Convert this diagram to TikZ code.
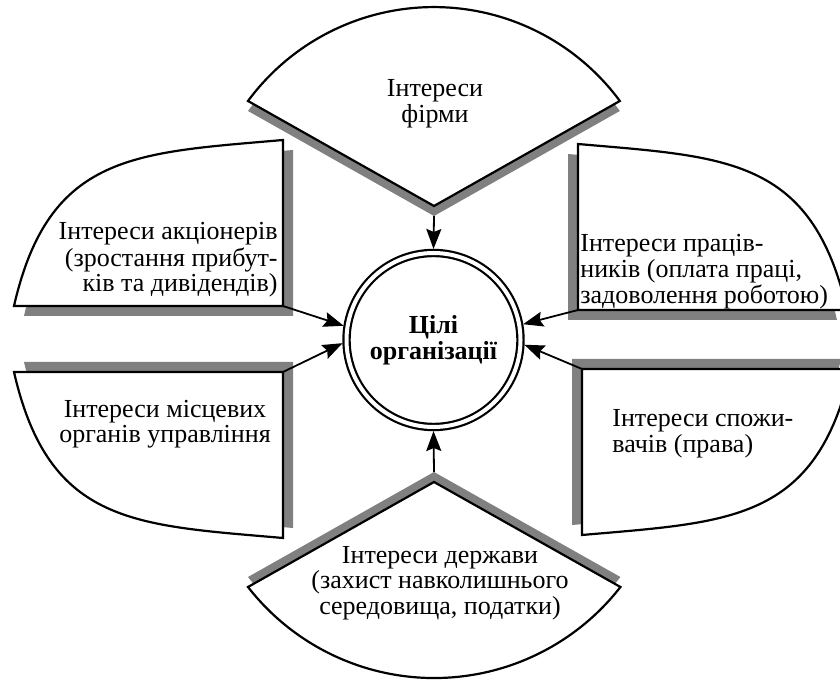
\documentclass[tikz,border=0pt]{standalone}
\usepackage{fontspec}
\setmainfont{Liberation Serif}
\usetikzlibrary{arrows.meta}
\tikzset{
    shadowfill/.style={fill=gray},
    panel/.style={draw=black, fill=white, line width=1.1pt},
    % arrows from the interests to the goals
    feedarrow/.style={
        line width=0.9pt,
        black,
        -{Stealth[length=10pt, width=7.5pt, inset=1.5pt]}
    },
    interest/.style={font=\fontsize{13}{10.5}\selectfont, inner sep=0pt}
}
\newcommand{\quarterbox}{(0,0) -- (-26.9,0) .. controls (-23.4,15.3) and (-14.8,15.3) .. (0,16.6) -- cycle}

\begin{document}
\begin{tikzpicture}[x=5pt,y=5pt]
    \useasboundingbox (0,0) rectangle (84,68);
    \clip (0,0) rectangle (84,68);
    % ===================== sectors =====================
    \fill[shadowfill] (43.4,46.4) -- (24.8,56.9) arc[start angle=143.6, end angle=36.4, radius=23.1] -- cycle;
    \draw[panel] (43.4,47.4) -- (24.8,57.9) arc[start angle=143.6, end angle=36.4, radius=23.1] -- cycle;
    \coordinate (firm-tip) at (43.4,46.4);

    \fill[shadowfill] (43.4,20.8) -- (24.8,10.3) arc[start angle=217.9, end angle=322.1, radius=23.6] -- cycle;
    \draw[panel] (43.4,19.8) -- (24.8,9.3) arc[start angle=217.9, end angle=322.1, radius=23.6] -- cycle;
    \coordinate (state-tip) at (43.4,20.8);

    % ===================== boxes =====================
    \begin{scope}[shift={(28.3,37.4)}]
     \fill[shadowfill, shift={(1,-1)}] \quarterbox;
     \draw[panel] \quarterbox;
     \coordinate (shareholders-corner) at (0,0);
    \end{scope}
    \begin{scope}[shift={(57.8,37.0)}, xscale=-1]
     \fill[shadowfill, shift={(1,-1)}] \quarterbox;
     \draw[panel] \quarterbox;
     \coordinate (workers-corner) at (0,0);
    \end{scope}
    \begin{scope}[shift={(28.3,30.8)}, yscale=-1]
     \fill[shadowfill, shift={(1,-1)}] \quarterbox;
     \draw[panel] \quarterbox;
     \coordinate (local-corner) at (0,0);
    \end{scope}
    \begin{scope}[shift={(58.2,31.1)}, xscale=-1, yscale=-1]
     \fill[shadowfill, shift={(1,-1)}] \quarterbox;
     \draw[panel] \quarterbox;
     \coordinate (consumers-corner) at (0,0);
    \end{scope}

    %label
    \node[interest, align=center] (firm) at (43.5,57.6) {Інтереси\\фірми};
    \node[interest, align=right, anchor=east] (shareholders) at (27.8,42.0)
        {Інтереси акціонерів\\(зростання прибут-\\ків та дивідендів)};
    \node[interest, align=left, anchor=west] (workers) at (58.0,40.8)
        {Інтереси праців-\\ників (оплата праці,\\задоволення роботою)};
    \node[interest, align=center] (local) at (16.5,25.6) {Інтереси місцевих\\органів управління};
    \node[interest, align=left, anchor=west] (consumers) at (61.2,24.6) {Інтереси спожи-\\вачів (права)};
    \node[interest, align=center] (state) at (44.0,9.7)
        {Інтереси держави\\(захист навколишнього\\середовища, податки)};

    % ===================== goals =====================
    \node[circle, draw, double, double distance=2pt, line width=1.1pt, fill=white,
          minimum size=87pt, inner sep=0pt, outer sep=2pt, align=center,
          font=\fontsize{13}{11}\selectfont\bfseries] (goal) at (43.35,34.0) {Цілі\\організації};

    \draw[feedarrow] (firm-tip) -- (goal.90);
    \draw[feedarrow] (state-tip) -- (goal.-90);
    \draw[feedarrow] (shareholders-corner) -- (goal.171);
    \draw[feedarrow] (local-corner) -- (goal.182);
    \draw[feedarrow] (workers-corner) -- (goal.10);
    \draw[feedarrow] (consumers-corner) -- (goal.-3);
\end{tikzpicture}
\end{document}
